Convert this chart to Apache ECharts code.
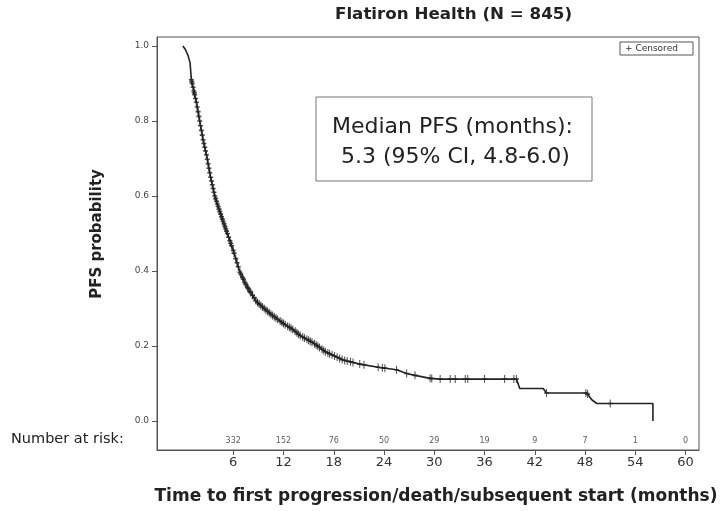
<!DOCTYPE html>
<html>
<head>
<meta charset="utf-8">
<script src="https://cdn.jsdelivr.net/npm/echarts@6/dist/echarts.min.js"></script>
<style>html,body{margin:0;padding:0;background:#fff;}#c{width:725px;height:511px;}</style>
</head>
<body>
<div id="c"></div>
<script>
// Kaplan-Meier curve (months, survival probability)
const kmTime = [0, 0.3, 0.6, 0.85, 1.0, 1.3, 1.6, 2.0, 2.4, 2.8, 3.3, 3.8, 4.2, 4.6, 5.3, 6.0, 6.8, 7.6, 8.8, 9.2, 10.5, 12.0, 13.2, 14.0, 15.6, 17.0, 19.1, 21.1, 23.5, 25.5, 26.7, 27.7, 29.5, 30.7, 39.8, 40.0, 40.2, 43.0, 43.4, 48.2, 48.8, 49.4, 56.1, 56.1];
const kmSurv = [1.0, 0.99, 0.975, 0.955, 0.91, 0.88, 0.85, 0.80, 0.75, 0.71, 0.65, 0.60, 0.572, 0.545, 0.50, 0.455, 0.397, 0.36, 0.318, 0.31, 0.285, 0.26, 0.243, 0.228, 0.208, 0.185, 0.163, 0.152, 0.143, 0.137, 0.127, 0.122, 0.114, 0.112, 0.112, 0.10, 0.087, 0.087, 0.075, 0.075, 0.057, 0.047, 0.047, 0.0];
// censored observation times (months)
const censorTimes = [1.0, 1.05, 1.1, 1.2, 1.3, 1.35, 1.4, 1.5, 1.6, 1.7, 1.8, 1.9, 2.0, 2.1, 2.2, 2.3, 2.4, 2.5, 2.6, 2.7, 2.8, 2.9, 3.0, 3.1, 3.2, 3.3, 3.4, 3.5, 3.6, 3.7, 3.8, 3.9, 4.0, 4.1, 4.2, 4.3, 4.4, 4.5, 4.6, 4.7, 4.8, 4.9, 5.0, 5.1, 5.2, 5.3, 5.45, 5.6, 5.7, 5.8, 6.0, 6.1, 6.3, 6.45, 6.6, 6.8, 6.9, 7.1, 7.2, 7.4, 7.5, 7.7, 7.8, 8.0, 8.1, 8.3, 8.5, 8.7, 8.9, 9.1, 9.3, 9.5, 9.7, 9.9, 10.1, 10.3, 10.5, 10.7, 10.9, 11.1, 11.3, 11.6, 11.8, 12.0, 12.2, 12.5, 12.7, 12.9, 13.1, 13.4, 13.6, 13.8, 14.0, 14.3, 14.5, 14.8, 15.0, 15.2, 15.4, 15.7, 15.9, 16.1, 16.3, 16.6, 16.8, 17.0, 17.3, 17.5, 17.8, 18.1, 18.4, 18.7, 19.0, 19.3, 19.6, 20.0, 20.3, 21.1, 21.6, 23.3, 23.8, 24.1, 25.5, 26.7, 27.7, 29.5, 29.7, 30.7, 31.9, 32.5, 33.7, 34.0, 36.0, 38.4, 39.5, 39.8, 43.4, 48.1, 48.3, 51.0];
// numbers at risk
const riskTimes = [6, 12, 18, 24, 30, 36, 42, 48, 54, 60];
const riskCounts = [332, 152, 76, 50, 29, 19, 9, 7, 1, 0];
// axis ticks
const xTicks = [6, 12, 18, 24, 30, 36, 42, 48, 54, 60];
const yTicks = [0, 0.2, 0.4, 0.6, 0.8, 1.0];

const titleText = 'Flatiron Health (N = 845)';
const xName = 'Time to first progression/death/subsequent start (months)';
const yName = 'PFS probability';
const medianLine1 = 'Median PFS (months):';
const medianLine2 = '5.3 (95% CI, 4.8-6.0)';

function survAt(t) {
  for (let i = 0; i < kmTime.length - 1; i++) {
    if (t >= kmTime[i] && t <= kmTime[i + 1]) {
      const dt = kmTime[i + 1] - kmTime[i];
      if (dt === 0) return kmSurv[i];
      return kmSurv[i] + (kmSurv[i + 1] - kmSurv[i]) * (t - kmTime[i]) / dt;
    }
  }
  return kmSurv[kmSurv.length - 1];
}

const FONT = 'DejaVu Sans';
const chart = echarts.init(document.getElementById('c'), null, { renderer: 'canvas' });
const riskY = -0.053;

chart.setOption({
  animation: false,
  backgroundColor: '#fff',
  title: {
    text: titleText, left: 330, top: 1,
    textStyle: { fontFamily: FONT, fontSize: 16.7, fontWeight: 'bold', color: '#222' }
  },
  grid: { left: 157, top: 37, right: 26, bottom: 61, show: true, borderColor: '#555', borderWidth: 1 },
  xAxis: {
    type: 'value', min: -3.1, max: 61.6,
    splitLine: { show: false },
    axisLine: { show: true, onZero: false, lineStyle: { color: '#555' } },
    axisTick: { show: true, length: 5, customValues: xTicks, lineStyle: { color: '#555' } },
    axisLabel: { customValues: xTicks, fontFamily: FONT, fontSize: 13, color: '#333', margin: 6 }
  },
  yAxis: {
    type: 'value', min: -0.077, max: 1.024,
    splitLine: { show: false },
    axisLine: { show: true, onZero: false, lineStyle: { color: '#555' } },
    axisTick: { show: true, length: 5, customValues: yTicks, lineStyle: { color: '#555' } },
    axisLabel: { customValues: yTicks, fontFamily: FONT, fontSize: 9, color: '#444', margin: 8,
      formatter: v => v.toFixed(1) }
  },
  series: [
    {
      type: 'line', data: kmTime.map((t, i) => [t, kmSurv[i]]),
      showSymbol: false, symbol: 'none',
      lineStyle: { color: '#222', width: 1.6 }
    },
    {
      type: 'scatter', data: censorTimes.map(t => [t, survAt(t)]),
      symbol: 'path://M-1,-5 H1 V-1 H5 V1 H1 V5 H-1 V1 H-5 V-1 H-1 Z',
      symbolKeepAspect: false, symbolSize: [5, 8],
      itemStyle: { color: '#222' }
    },
    {
      type: 'scatter', data: riskTimes.map((t, i) => [t, riskY, riskCounts[i]]),
      symbolSize: 0,
      label: { show: true, position: 'inside', formatter: p => String(p.value[2]),
        fontFamily: FONT, fontSize: 8, color: '#333' }
    }
  ],
  graphic: [
    { type: 'text', left: 11, top: 432, style: { text: 'Number at risk:', font: '14.5px "DejaVu Sans"', fill: '#222' } },
    { type: 'text', x: 97, y: 234, rotation: Math.PI / 2,
      style: { text: yName, font: 'bold 15px "DejaVu Sans"', fill: '#222', align: 'center', verticalAlign: 'middle' } },
    { type: 'text', x: 436, y: 497,
      style: { text: xName, font: 'bold 17px "DejaVu Sans"', fill: '#222', align: 'center', verticalAlign: 'middle' } },
    { type: 'rect', shape: { x: 316, y: 97, width: 276, height: 84 }, style: { fill: '#fff', stroke: '#777', lineWidth: 1 } },
    { type: 'text', x: 332, y: 127, style: { text: medianLine1, font: '22px "DejaVu Sans"', fill: '#222', verticalAlign: 'middle' } },
    { type: 'text', x: 341, y: 157, style: { text: medianLine2, font: '22px "DejaVu Sans"', fill: '#222', verticalAlign: 'middle' } },
    { type: 'rect', shape: { x: 620, y: 42, width: 73, height: 13 }, style: { fill: '#fff', stroke: '#555', lineWidth: 1 } },
    { type: 'text', x: 625, y: 48.5, style: { text: '+ Censored', font: '9px "DejaVu Sans"', fill: '#333', verticalAlign: 'middle' } }
  ]
});
</script>
</body>
</html>
